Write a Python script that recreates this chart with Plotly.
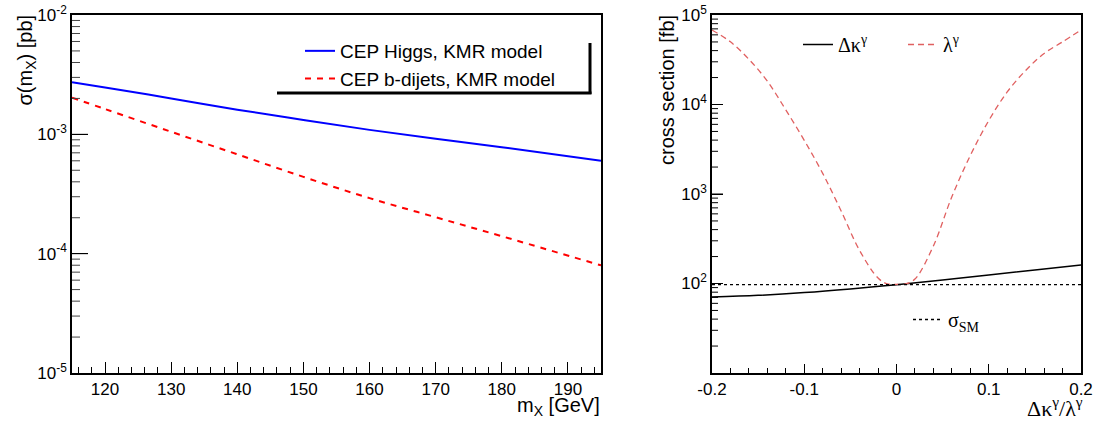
import math
import plotly.graph_objects as go

# ---- Left panel data ----
mass = [115, 120, 130, 140, 150, 160, 170, 180, 195]
higgs_xs = [2.73e-3, 2.47e-3, 2.0e-3, 1.61e-3, 1.32e-3, 1.09e-3, 9.2e-4, 7.8e-4, 6.0e-4]
bdijet_xs = [2.03e-3, 1.63e-3, 1.05e-3, 6.8e-4, 4.4e-4, 2.92e-4, 2.02e-4, 1.40e-4, 7.98e-5]

# ---- Right panel data ----
coupling = [-0.2, -0.18, -0.16, -0.14, -0.12, -0.10, -0.08, -0.06, -0.04, -0.02, -0.01,
            0.0, 0.01, 0.02, 0.04, 0.06, 0.08, 0.10, 0.12, 0.14, 0.16, 0.18, 0.2]
lambda_xs = [67900, 50100, 32000, 18200, 8710, 3980, 1700, 646, 234, 115, 98.9,
             97.7, 98.9, 112, 263, 933, 2690, 6610, 13800, 24000, 37200, 50100, 67900]
dk_x = [-0.2, -0.15, -0.1, -0.05, 0.0, 0.05, 0.1, 0.15, 0.2]
dk_xs = [70.6, 73.7, 79.1, 86.9, 97.0, 109.5, 124.3, 141.5, 161.0]
sigma_sm = 97.0

# ---- Ticks ----
left_yticks = [1e-5, 1e-4, 1e-3, 1e-2]
left_yticktext = ["10<sup>-5</sup>", "10<sup>-4</sup>", "10<sup>-3</sup>", "10<sup>-2</sup>"]
left_yminor = [m * 10.0 ** e for e in (-5, -4, -3) for m in range(2, 10)]
left_xticks = [120, 130, 140, 150, 160, 170, 180, 190]
right_yticks = [1e2, 1e3, 1e4, 1e5]
right_yticktext = ["10<sup>2</sup>", "10<sup>3</sup>", "10<sup>4</sup>", "10<sup>5</sup>"]
right_yminor = [m * 10.0 ** e for e in (1, 2, 3, 4) for m in range(2, 10)]
right_xticks = [-0.2, -0.1, 0.0, 0.1, 0.2]
right_xticktext = ["-0.2", "-0.1", "0", "0.1", "0.2"]

W, H = 1102, 421
SANS = "Liberation Sans, Arial, sans-serif"
SERIF = "Liberation Serif, Times New Roman, serif"

def px(x):
    return x / W

def py(y):
    return 1 - y / H

fig = go.Figure()

fig.add_trace(go.Scatter(x=mass, y=higgs_xs, mode="lines", name="CEP Higgs, KMR model",
                         line=dict(color="#0000ff", width=2), line_shape="spline",
                         xaxis="x", yaxis="y", legend="legend"))
fig.add_trace(go.Scatter(x=mass, y=bdijet_xs, mode="lines", name="CEP b-dijets, KMR model",
                         line=dict(color="#ff0000", width=2, dash="6px,6px"), line_shape="spline",
                         xaxis="x", yaxis="y", legend="legend"))

fig.add_trace(go.Scatter(x=dk_x, y=dk_xs, mode="lines", name="Δκ<sup>γ</sup>",
                         line=dict(color="black", width=1.5), line_shape="spline",
                         xaxis="x2", yaxis="y2", legend="legend2"))
fig.add_trace(go.Scatter(x=coupling, y=lambda_xs, mode="lines", name="λ<sup>γ</sup>",
                         line=dict(color="#e06060", width=1.3, dash="6px,4px"), line_shape="spline",
                         xaxis="x2", yaxis="y2", legend="legend2"))
fig.add_trace(go.Scatter(x=[-0.2, 0.2], y=[sigma_sm, sigma_sm], mode="lines",
                         name="σ<sub>SM</sub>",
                         line=dict(color="black", width=1.3, dash="dot"),
                         xaxis="x2", yaxis="y2", legend="legend3"))

axis_style = dict(showline=True, linecolor="black", linewidth=1.5, mirror=True,
                  showgrid=False, zeroline=False, ticks="inside", tickcolor="black",
                  tickfont=dict(family=SANS, size=17, color="black"))

Y_DOM = [py(373), py(15)]
LEFT_YR = [-5, -2]
RIGHT_YR = [1, 5]

fig.update_layout(
    width=W, height=H,
    margin=dict(l=0, r=0, t=0, b=0, autoexpand=False),
    paper_bgcolor="white", plot_bgcolor="white",
    xaxis=dict(domain=[px(72), px(601)], range=[115, 195], anchor="y",
               tickmode="array", tickvals=left_xticks, ticklen=11, tickwidth=1,
               minor=dict(ticks="inside", dtick=2, tick0=116, ticklen=6, tickcolor="black", showgrid=False),
               **axis_style),
    yaxis=dict(domain=Y_DOM, type="log", range=LEFT_YR, anchor="x",
               tickmode="array", tickvals=left_yticks, ticktext=left_yticktext,
               ticklen=16, tickwidth=1, **axis_style),
    xaxis2=dict(domain=[px(712), px(1081)], range=[-0.2, 0.2], anchor="y2",
                tickmode="array", tickvals=right_xticks, ticktext=right_xticktext,
                ticklen=9, tickwidth=1,
                minor=dict(ticks="inside", dtick=0.02, tick0=-0.2, ticklen=5, tickcolor="black", showgrid=False),
                **axis_style),
    yaxis2=dict(domain=Y_DOM, type="log", range=RIGHT_YR, anchor="x2",
                tickmode="array", tickvals=right_yticks, ticktext=right_yticktext,
                ticklen=11, tickwidth=1, **axis_style),
    legend=dict(x=px(300), y=py(32), xanchor="left", yanchor="top",
                bgcolor="rgba(0,0,0,0)", borderwidth=0,
                font=dict(family=SANS, size=19, color="black"),
                tracegroupgap=0),
    legend2=dict(x=px(798), y=py(25), xanchor="left", yanchor="top", orientation="h",
                 entrywidth=60, entrywidthmode="pixels",
                 bgcolor="rgba(0,0,0,0)", borderwidth=0,
                 font=dict(family=SERIF, size=20, color="black")),
    legend3=dict(x=px(908), y=py(300), xanchor="left", yanchor="top",
                 bgcolor="rgba(0,0,0,0)", borderwidth=0,
                 font=dict(family=SERIF, size=20, color="black")),
    showlegend=True,
)


def add_log_ticks(values, yrange, x_left_px, length_px, color):
    """Draw inside tick marks on a log y axis (paper coords derived from the axis range)."""
    for v in values:
        frac = (math.log10(v) - yrange[0]) / (yrange[1] - yrange[0])
        yp = Y_DOM[0] + frac * (Y_DOM[1] - Y_DOM[0])
        fig.add_shape(type="line", xref="paper", yref="paper",
                      x0=px(x_left_px), x1=px(x_left_px + length_px), y0=yp, y1=yp,
                      line=dict(color=color, width=1), layer="above")


add_log_ticks(left_yticks[1:-1], LEFT_YR, 72, 16, "black")
add_log_ticks(left_yminor, LEFT_YR, 72, 8, "#444444")
add_log_ticks(right_yticks[:-1], RIGHT_YR, 712, 11, "black")
add_log_ticks(right_yminor, RIGHT_YR, 712, 6, "black")

# ROOT-style legend shadow (right and bottom edges)
fig.add_shape(type="line", xref="paper", yref="paper", x0=px(590), x1=px(590), y0=py(43), y1=py(94),
              line=dict(color="black", width=3))
fig.add_shape(type="line", xref="paper", yref="paper", x0=px(277), x1=px(591.5), y0=py(93), y1=py(93),
              line=dict(color="black", width=3))

# Axis titles (ROOT style: right/top aligned)
fig.add_annotation(xref="paper", yref="paper", x=px(602), y=py(406), xanchor="right", yanchor="middle",
                   text="m<sub>X</sub> [GeV]", showarrow=False,
                   font=dict(family=SANS, size=20, color="black"))
fig.add_annotation(xref="paper", yref="paper", x=px(26), y=py(13), xanchor="center", yanchor="top",
                   text="σ(m<sub>X</sub>) [pb]", textangle=-90, showarrow=False,
                   font=dict(family=SANS, size=20, color="black"))
fig.add_annotation(xref="paper", yref="paper", x=px(1085), y=py(407), xanchor="right", yanchor="middle",
                   text="Δκ<sup>γ</sup>/λ<sup>γ</sup>", showarrow=False,
                   font=dict(family=SERIF, size=22, color="black"))
fig.add_annotation(xref="paper", yref="paper", x=px(667), y=py(13), xanchor="center", yanchor="top",
                   text="cross section [fb]", textangle=-90, showarrow=False,
                   font=dict(family=SANS, size=20, color="black"))

fig.write_html("out.html", config={"displayModeBar": False},
               post_script="document.body.style.margin='0px';document.body.style.overflow='hidden';")
